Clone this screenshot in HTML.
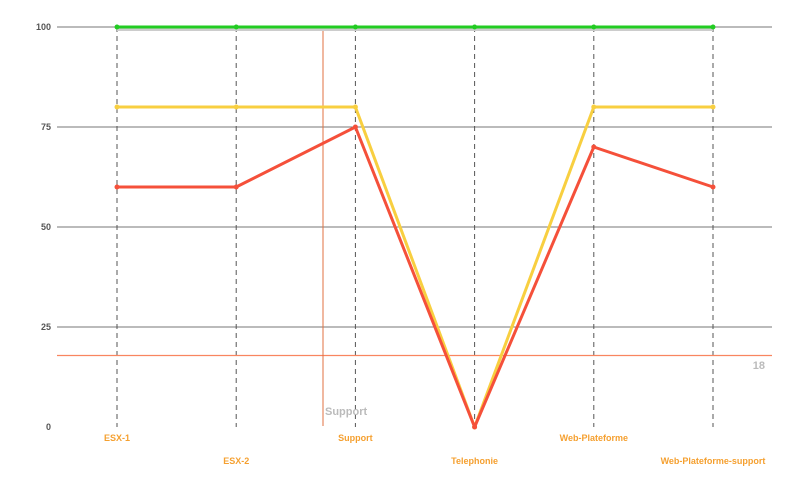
<!DOCTYPE html>
<html><head><meta charset="utf-8"><style>
body{margin:0;background:#fff}
svg{display:block;font-family:"Liberation Sans",sans-serif}
</style></head><body>
<svg id="chart" width="797" height="486" viewBox="0 0 797 486" xmlns="http://www.w3.org/2000/svg"></svg>
<script>
const categories=["ESX-1","ESX-2","Support","Telephonie","Web-Plateforme","Web-Plateforme-support"];
const greenValues=[100,100,100,100,100,100];
const yellowValues=[80,80,80,0,80,80];
const redValues=[60,60,75,0,70,60];
const yTicks=[0,25,50,75,100];
const thresholdValue=18;
const markerLabel="Support";

const NS="http://www.w3.org/2000/svg";
const svg=document.getElementById('chart');
const x0=117,dx=119.2,yBase=427,yScale=4;
function xs(i){return x0+i*dx;}
function ys(v){return yBase-v*yScale;}
function el(t,a,p){const e=document.createElementNS(NS,t);for(const k in a)e.setAttribute(k,a[k]);(p||svg).appendChild(e);return e;}

yTicks.forEach(t=>{
  if(t>0){const l=el('line',{x1:57,x2:772,y1:ys(t),y2:ys(t),stroke:'#777','stroke-width':1});
  
  }
  const tx=el('text',{x:51,y:ys(t)+3,'text-anchor':'end','font-size':9,'font-weight':'bold',fill:'#555'});
  tx.textContent=t;
  
  
});
categories.forEach((c,i)=>{
  const l=el('line',{x1:xs(i),x2:xs(i),y1:ys(100),y2:yBase,stroke:'#555','stroke-width':1,'stroke-dasharray':'5,4'});
  
  
  const t=el('text',{x:xs(i),y:i%2==0?441:464,'text-anchor':'middle','font-size':9,'font-weight':'bold',fill:'#f5a030'});
  t.textContent=c;
  
  
});
// threshold
const th=el('line',{x1:57,x2:772,y1:ys(thresholdValue)+0.5,y2:ys(thresholdValue)+0.5,stroke:'#f98560','stroke-width':1.2});


const tht=el('text',{x:765,y:369,'text-anchor':'end','font-size':11,'font-weight':'bold',fill:'#bbb'});
tht.textContent=thresholdValue;


// vertical marker
const vm=el('line',{x1:323,x2:323,y1:ys(100),y2:yBase-1,stroke:'#e07040','stroke-width':1});


const vmt=el('text',{x:325,y:415,'font-size':11,'font-weight':'bold',fill:'#bbb'});
vmt.textContent=markerLabel;



function series(vals,color,name,shadow){
  const pts=vals.map((v,i)=>xs(i)+','+ys(v)).join(' ');
  if(shadow){const s=el('polyline',{points:vals.map((v,i)=>xs(i)+','+(ys(v)+2)).join(' '),fill:'none',stroke:'#ccc','stroke-width':4});
  
  }
  const p=el('polyline',{points:pts,fill:'none',stroke:color,'stroke-width':3,'stroke-linejoin':'round'});
  
  
  vals.forEach((v,i)=>{const c=el('circle',{cx:xs(i),cy:ys(v),r:2.5,fill:color});
  
  });
}
series(greenValues,'#22cc22','green-series',true);
series(yellowValues,'#f8cf40','yellow-series');
series(redValues,'#f5503a','red-series');
</script>
</body></html>
